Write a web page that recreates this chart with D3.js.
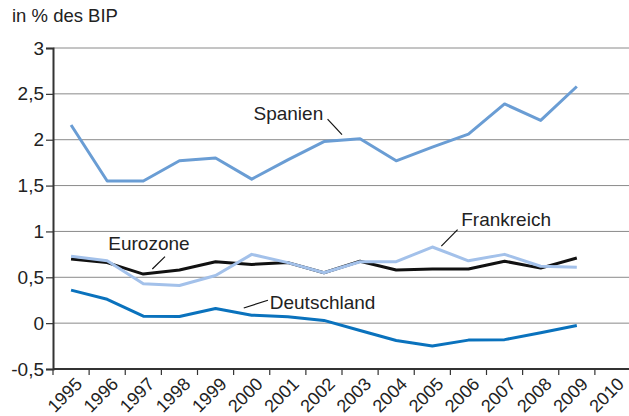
<!DOCTYPE html>
<html>
<head>
<meta charset="utf-8">
<script src="https://cdn.jsdelivr.net/npm/d3@7"></script>
<style>
  html, body { margin: 0; padding: 0; background: #fff; }
  svg { display: block; font-family: "Liberation Sans", Arial, Helvetica, sans-serif; }
</style>
</head>
<body>
<svg id="chart" width="629" height="416"></svg>
<script>
// Years on the category axis (2010 has a slot but no data yet)
const years = ["1995","1996","1997","1998","1999","2000","2001","2002","2003",
               "2004","2005","2006","2007","2008","2009","2010"];

// Values in % of GDP
const spanien     = [2.16, 1.55, 1.55, 1.77, 1.80, 1.57, 1.78, 1.98, 2.01, 1.77, 1.92, 2.06, 2.39, 2.21, 2.58];
const frankreich  = [0.73, 0.68, 0.43, 0.41, 0.52, 0.75, 0.66, 0.55, 0.67, 0.67, 0.83, 0.68, 0.75, 0.62, 0.61];
const eurozone    = [0.70, 0.66, 0.535, 0.58, 0.67, 0.64, 0.66, 0.55, 0.675, 0.58, 0.59, 0.59, 0.675, 0.60, 0.71];
const deutschland = [0.36, 0.26, 0.076, 0.073, 0.16, 0.087, 0.07, 0.03, -0.08, -0.19, -0.25, -0.185, -0.18, -0.105, -0.025];

const yTicks = [-0.5, 0, 0.5, 1, 1.5, 2, 2.5, 3];
const yTitle = "in % des BIP";

// Drawing order: Frankreich sits on top of Eurozone where they overlap
const series = [
  { name: "Eurozone",    values: eurozone,    color: "#111111" },
  { name: "Frankreich",  values: frankreich,  color: "#a3c1ea" },
  { name: "Spanien",     values: spanien,     color: "#6a9dd4" },
  { name: "Deutschland", values: deutschland, color: "#0a72bd" }
];

// Label placement in data units: text anchor and leader line (year index, value)
const labels = [
  { text: "Spanien",     at: [5.05, 2.22],  from: [7.1, 2.225], to: [7.5, 2.055] },
  { text: "Eurozone",    at: [1.03, 0.80],  from: [2.6, 0.725], to: [2.25, 0.59] },
  { text: "Frankreich",  at: [10.8, 1.06],  from: [10.7, 1.02], to: [10.25, 0.84] },
  { text: "Deutschland", at: [5.5, 0.155],  from: [5.45, 0.25], to: [4.78, 0.165] }
];

const svg = d3.select("#chart");
const W = 629, H = 416;
const margin = { left: 53, top: 48, right: -2, bottom: 47 };

const x = d3.scaleBand().domain(years).range([margin.left, W - margin.right]).padding(0);
const y = d3.scaleLinear().domain([-0.5, 3]).range([H - margin.bottom, margin.top]);
const xc = i => x(years[0]) + x.bandwidth() * (i + 0.5);

const fmt = v => String(v).replace(".", ",");

// Gridlines
svg.append("g")
  .selectAll("line")
  .data(yTicks.filter(d => d !== -0.5))
  .join("line")
  .attr("x1", margin.left).attr("x2", W)
  .attr("y1", d => y(d)).attr("y2", d => y(d))
  .attr("stroke", "#8a8a8a").attr("stroke-width", 1);

// Y axis
const yAxis = svg.append("g")
  .attr("transform", `translate(${margin.left},0)`)
  .call(d3.axisLeft(y).tickValues(yTicks).tickSize(7).tickPadding(2).tickFormat(fmt));
yAxis.select(".domain").attr("stroke", "#333").attr("stroke-width", 2);
yAxis.selectAll(".tick line").attr("stroke", "#333").attr("stroke-width", 1.2);
yAxis.selectAll("text").attr("font-size", 19).attr("fill", "#222")
  .style("font-family", "'Liberation Sans', Arial, sans-serif");

// X axis with ticks on band boundaries
const xAxisG = svg.append("g").attr("transform", `translate(0,${y(-0.5)})`);
xAxisG.append("line")
  .attr("x1", margin.left).attr("x2", W)
  .attr("stroke", "#333").attr("stroke-width", 2);
xAxisG.selectAll(".tk")
  .data(years)
  .join("line")
  .attr("class", "tk")
  .attr("x1", d => x(d)).attr("x2", d => x(d))
  .attr("y1", 0).attr("y2", 6)
  .attr("stroke", "#333").attr("stroke-width", 1.2);
xAxisG.selectAll("text")
  .data(years)
  .join("text")
  .attr("transform", d => `translate(${x(d) + x.bandwidth() / 2 + 3},7) rotate(-45)`)
  .attr("text-anchor", "end")
  .attr("dy", "0.72em")
  .attr("font-size", 18)
  .attr("fill", "#222")
  .text(d => d);

// Axis title
svg.append("text")
  .attr("x", 12).attr("y", 22)
  .attr("font-size", 18.5).attr("fill", "#222")
  .text(yTitle);

// Series lines
const line = d3.line()
  .x((d, i) => xc(i))
  .y(d => y(d));

svg.append("g")
  .selectAll("path")
  .data(series)
  .join("path")
  .attr("d", s => line(s.values))
  .attr("fill", "none")
  .attr("stroke", s => s.color)
  .attr("stroke-width", 3)
  .attr("stroke-linejoin", "round");

// Series labels with leader lines
const lab = svg.append("g");
labels.forEach(l => {
  lab.append("line")
    .attr("x1", xc(l.from[0])).attr("y1", y(l.from[1]))
    .attr("x2", xc(l.to[0])).attr("y2", y(l.to[1]))
    .attr("stroke", "#111").attr("stroke-width", 1.2);
  lab.append("text")
    .attr("x", xc(l.at[0])).attr("y", y(l.at[1]))
    .attr("font-size", 19).attr("fill", "#222")
    .text(l.text);
});
</script>
</body>
</html>
